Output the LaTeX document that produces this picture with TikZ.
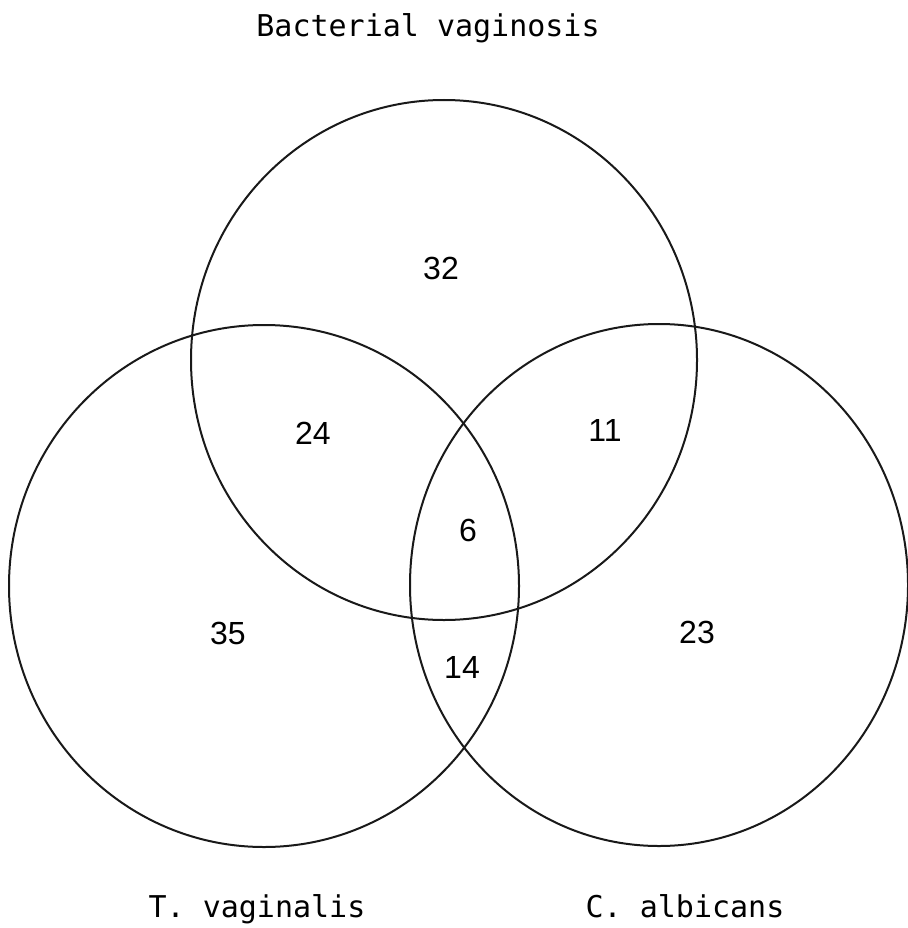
\documentclass[tikz,border=0pt]{standalone}
\usepackage{fontspec}
\setmonofont{DejaVu Sans Mono}
\newfontfamily\countfont{Liberation Sans}
\usetikzlibrary{positioning}
\tikzset{
    setring/.style={draw=black!90, line width=2pt},
    setname/.style={anchor=base, inner sep=0pt, font=\fontsize{30}{30}\selectfont\ttfamily},
    count/.style={inner sep=0pt, font=\fontsize{32}{32}\selectfont\countfont}
}

\begin{document}
\begin{tikzpicture}[x=1pt, y=-1pt]
    \useasboundingbox (0,0) rectangle (907,928);
    % the three sets
    \coordinate (bv) at (444,360);
    \coordinate (tv) at (264,586);
    \coordinate (ca) at (659,585);
    \draw[setring] (bv) ellipse [x radius=253, y radius=260];
    \draw[setring] (tv) ellipse [x radius=255, y radius=261];
    \draw[setring] (ca) ellipse [x radius=249, y radius=261];
    % set names
    \node[setname] (bvname) at (428,37) {Bacterial vaginosis};
    \node[setname] (tvname) at (257,917) {T. vaginalis};
    \node[setname] (caname) at (685,917) {C. albicans};
    % counts
    \node[count] (nbv) at (441,268) {32};
    \node[count] (nbvtv) at (313,433) {24};
    \node[count] (nbvca) at (605,430) {11};
    \node[count] (nall) at (468,530) {6};
    \node[count] (ntv) at (228,633) {35};
    \node[count] (nca) at (697,632) {23};
    \node[count] (ntvca) at (462,667) {14};
\end{tikzpicture}
\end{document}
